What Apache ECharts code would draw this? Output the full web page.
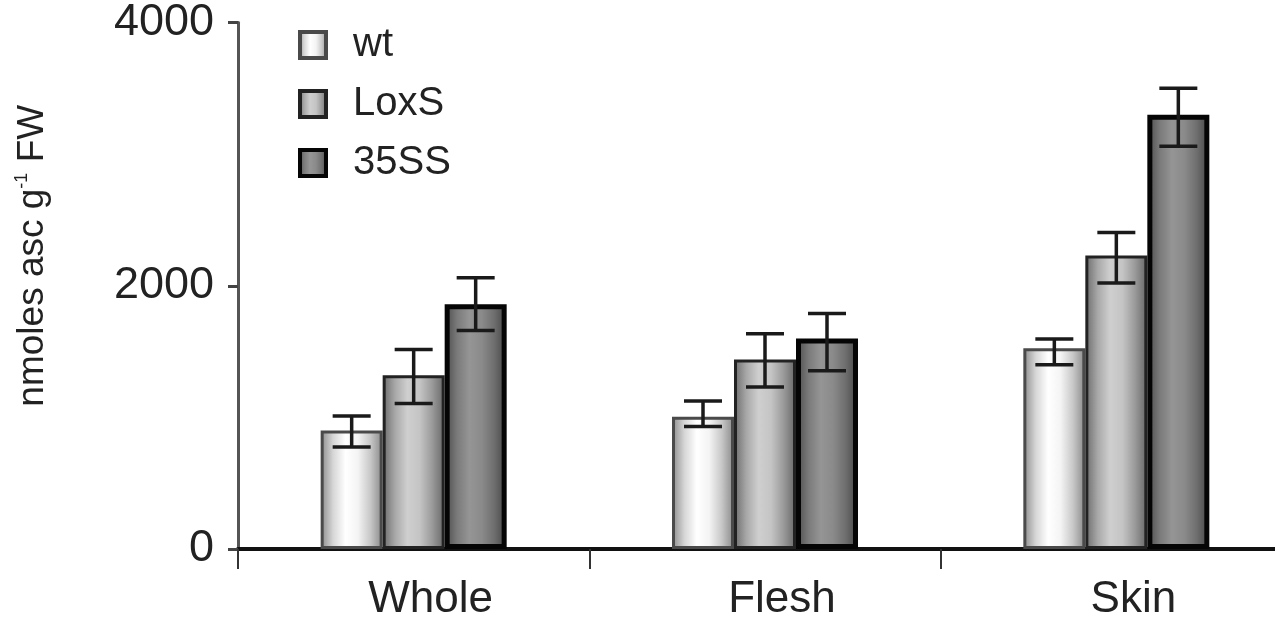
<!DOCTYPE html>
<html>
<head>
<meta charset="utf-8">
<script src="https://cdn.jsdelivr.net/npm/echarts@6/dist/echarts.min.js"></script>
<style>html,body{margin:0;padding:0;background:#fff;overflow:hidden}#c{width:1292px;height:622px}</style>
</head>
<body>
<div id="c"></div>
<script>
const categories = ['Whole', 'Flesh', 'Skin'];
const seriesNames = ['wt', 'LoxS', '35SS'];
const wtValues = [900, 1005, 1525];
const loxsValues = [1320, 1440, 2230];
const ss35Values = [1860, 1600, 3300];
const wtErrLow = [775, 930, 1400];
const wtErrHigh = [1010, 1125, 1595];
const loxsErrLow = [1105, 1230, 2020];
const loxsErrHigh = [1515, 1635, 2405];
const ss35ErrLow = [1660, 1355, 3060];
const ss35ErrHigh = [2060, 1790, 3500];
const yTicks = [0, 2000, 4000];

const BAR_W = 62;
const FONT = 'Liberation Sans, Arial, sans-serif';

function grad(stops) {
  return new echarts.graphic.LinearGradient(0, 0, 1, 0, stops.map((c, i) => ({ offset: i / (stops.length - 1), color: c })));
}
const styles = [
  { color: grad(['#8a8a8a', '#d6d6d6', '#ffffff', '#f4f4f4', '#c8c8c8', '#888888']), borderColor: '#4a4a4a', borderWidth: 3 },
  { color: grad(['#6a6a6a', '#a8a8a8', '#cfcfcf', '#c4c4c4', '#9a9a9a', '#666666']), borderColor: '#222222', borderWidth: 3 },
  { color: grad(['#4a4a4a', '#7a7a7a', '#959595', '#8a8a8a', '#6e6e6e', '#444444']), borderColor: '#050505', borderWidth: 5 }
];
const values = [wtValues, loxsValues, ss35Values];
const errLows = [wtErrLow, loxsErrLow, ss35ErrLow];
const errHighs = [wtErrHigh, loxsErrHigh, ss35ErrHigh];

function errorSeries(si) {
  const data = categories.map((c, i) => [i, errLows[si][i], errHighs[si][i]]);
  return {
    type: 'custom',
    name: seriesNames[si] + ' err',
    data: data,
    z: 10,
    silent: true,
    encode: { x: 0, y: [1, 2] },
    renderItem: function (params, api) {
      const idx = api.value(0);
      const lo = api.coord([idx, api.value(1)]);
      const hi = api.coord([idx, api.value(2)]);
      const x = lo[0] + (si - 1) * BAR_W;
      const cap = 19;
      const st = { stroke: '#1a1a1a', lineWidth: 3.5 };
      return {
        type: 'group',
        children: [
          { type: 'line', shape: { x1: x, y1: lo[1], x2: x, y2: hi[1] }, style: st },
          { type: 'line', shape: { x1: x - cap, y1: hi[1], x2: x + cap, y2: hi[1] }, style: st },
          { type: 'line', shape: { x1: x - cap, y1: lo[1], x2: x + cap, y2: lo[1] }, style: st }
        ]
      };
    }
  };
}

const chart = echarts.init(document.getElementById('c'), null, { renderer: 'canvas' });
const option = {
  animation: false,
  backgroundColor: '#fff',
  textStyle: { fontFamily: FONT },
  grid: { left: 238, right: 0, top: 22, bottom: 72, containLabel: false },
  legend: {
    data: seriesNames,
    orient: 'vertical',
    left: 293,
    top: 20,
    itemWidth: 26,
    itemHeight: 26,
    itemGap: 19,
    icon: 'rect',
    itemStyle: { borderWidth: 4 },
    textStyle: { fontFamily: FONT, fontSize: 40, color: '#222', padding: [0, 0, 0, 22] }
  },
  xAxis: {
    type: 'category',
    data: categories,
    axisLine: { lineStyle: { color: '#111', width: 4 } },
    axisTick: { show: true, length: 20, lineStyle: { color: '#333', width: 2 } },
    axisLabel: { fontFamily: FONT, fontSize: 44, color: '#222', margin: 29, padding: [0, 0, 0, 34] },
    splitLine: { show: false }
  },
  yAxis: {
    type: 'value',
    min: 0,
    max: 4000,
    interval: 2000,
    name: '{a|nmoles asc g}{b|-1}{a| FW}',
    nameLocation: 'middle',
    nameGap: 185,
    nameTextStyle: {
      padding: [0, 0, 0, 60],
      rich: {
        a: { fontFamily: FONT, fontSize: 37, color: '#222', lineHeight: 40 },
        b: { fontFamily: FONT, fontSize: 18, color: '#222', verticalAlign: 'top', lineHeight: 40 }
      }
    },
    axisLine: { show: true, lineStyle: { color: '#555', width: 3 } },
    axisTick: { show: true, length: 10, lineStyle: { color: '#444', width: 3 } },
    axisLabel: { fontFamily: FONT, fontSize: 45, color: '#222', margin: 24, padding: [6, 0, 0, 0], formatter: v => yTicks.includes(v) ? String(v) : '' },
    splitLine: { show: false }
  },
  series: [0, 1, 2].map(si => ({
    type: 'bar',
    name: seriesNames[si],
    data: values[si],
    barWidth: BAR_W,
    barGap: '0%',
    itemStyle: styles[si],
    z: 2
  })).concat([0, 1, 2].map(errorSeries))
};
chart.setOption(option);
</script>
</body>
</html>
